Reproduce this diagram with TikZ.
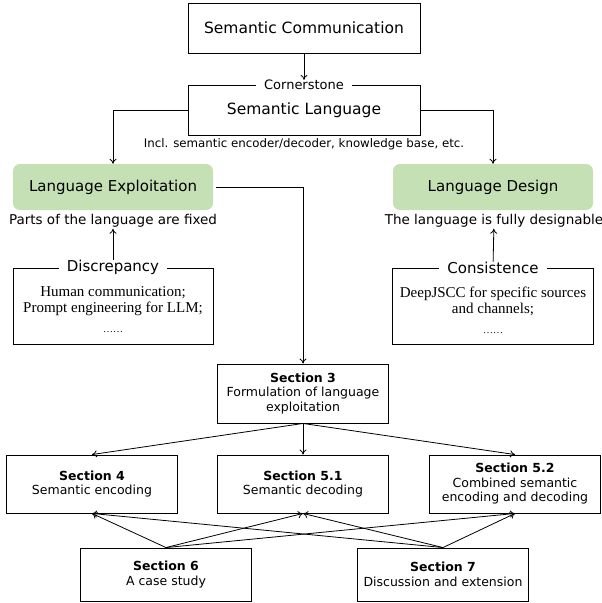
\documentclass[tikz,border=0pt]{standalone}
\usepackage{fontspec}
\setmainfont{DejaVu Sans}
\newfontfamily\serifbody{Liberation Serif}
\usetikzlibrary{arrows.meta}
\definecolor{leafgreen}{RGB}{197,224,180}
\begin{document}
\begin{tikzpicture}[x=1pt, y=-1pt, >={To[length=5pt,width=7pt]}]
	\pgfmathsetmacro{\secW}{171}
	\tikzstyle{box}=[draw, line width=0.9pt, inner sep=2pt, align=center]
	\tikzstyle{topic}=[fill=leafgreen, rounded corners=7pt, minimum width=200pt, minimum height=46pt, font=\fontsize{15}{18}\selectfont]
	\tikzstyle{note}=[font=\fontsize{11.8}{14}\selectfont, inner sep=1pt]
	\tikzstyle{tag}=[fill=white, font=\fontsize{15}{18}\selectfont, inner xsep=8pt, inner ysep=0pt]
	\tikzstyle{body}=[align=center, font=\serifbody\fontsize{15}{16}\selectfont]
	\tikzstyle{sec}=[box, minimum width=\secW pt, font=\fontsize{12.5}{14.5}\selectfont]
	\tikzstyle{link}=[->, line width=0.8pt]

	\useasboundingbox (0,0) rectangle (602,603);

	\node[box, minimum width=232pt, minimum height=50pt, font=\fontsize{15.5}{18}\selectfont] (comm) at (304,28) {Semantic Communication};
	\node[box, minimum width=232pt, minimum height=50pt, font=\fontsize{15.5}{18}\selectfont] (lang) at (304,110) {Semantic Language};
	\node[tag, font=\fontsize{13}{15}\selectfont] (corner) at (304,85) {Cornerstone};
	\node[note] (incl) at (304,144) {Incl. semantic encoder/decoder, knowledge base, etc.};

	\node[topic] (exploit) at (113,187) {Language Exploitation};
	\node[topic] (design) at (493,187) {Language Design};
	\node[note, font=\fontsize{13.5}{16}\selectfont] (fixed) at (113,221) {Parts of the language are fixed};
	\node[note, font=\fontsize{13.5}{16}\selectfont] (free) at (494,221) {The language is fully designable};

	% framed examples under each branch
	\node[box, minimum width=200pt, minimum height=76pt] (discr) at (113,306) {};
	\node[body] (discrtext) at (113,310) {Human communication;\\Prompt engineering for LLM;\\[4pt]\fontsize{10}{12}\selectfont ……};
	\node[tag] (discrtag) at (discr.north) {Discrepancy};
	\node[box, minimum width=201pt, minimum height=76pt] (consist) at (493,306) {};
	\node[body] (consisttext) at (493,310) {DeepJSCC for specific sources\\and channels;\\[4pt]\fontsize{10}{12}\selectfont ……};
	\node[tag] (consisttag) at (consist.north) {Consistence};

	\node[sec, minimum height=59pt] (sec3) at (303,393.5) {\textbf{Section 3}\\Formulation of language\\exploitation};
	\node[sec, minimum height=58pt] (sec4) at (92,484) {\textbf{Section 4}\\Semantic encoding};
	\node[sec, minimum height=58pt] (sec51) at (303,484) {\textbf{Section 5.1}\\Semantic decoding};
	\node[sec, minimum height=58pt] (sec52) at (515,484) {\textbf{Section 5.2}\\Combined semantic\\encoding and decoding};
	\node[sec, minimum height=53pt] (sec6) at (166,574.5) {\textbf{Section 6}\\A case study};
	\node[sec, minimum height=53pt] (sec7) at (443,574.5) {\textbf{Section 7}\\Discussion and extension};

	\draw[link] (comm) -- (corner);
	\draw[link] (lang.west) -| (exploit.north);
	\draw[link] (lang.east) -| (design.north);
	\draw[link] (discrtag) -- (fixed);
	\draw[link] (consisttag) -- (free);
	\draw[link, shorten <=3pt] (exploit.east) -| (sec3.north);

	\draw[link] (sec3.south) -- (sec4.north);
	\draw[link] (sec3.south) -- (sec51.north);
	\draw[link] (sec3.south) -- (sec52.north);

	\draw[link] (sec6.north) -- (sec4.south);
	\draw[link] (sec6.north) -- (sec51.south);
	\draw[link] (sec6.north) -- (sec52.south);
	\draw[link] (sec7.north) -- (sec4.south);
	\draw[link] (sec7.north) -- (sec51.south);
	\draw[link] (sec7.north) -- (sec52.south);
\end{tikzpicture}
\end{document}
